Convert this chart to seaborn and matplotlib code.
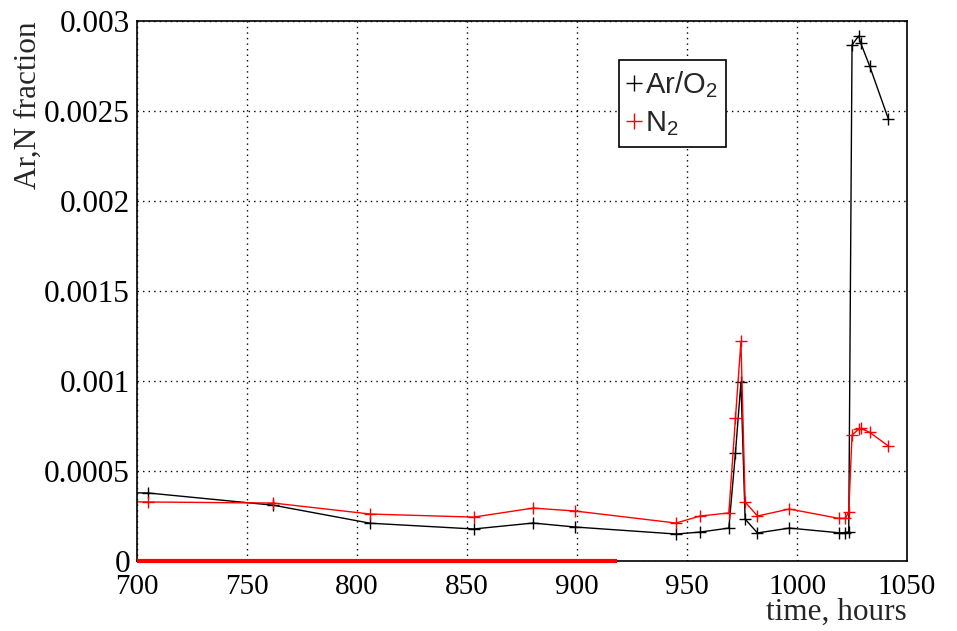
import numpy as np
import pandas as pd
import seaborn as sns
import matplotlib
matplotlib.use("Agg")
import matplotlib.pyplot as plt
from matplotlib.lines import Line2D
from matplotlib.ticker import MultipleLocator, FixedLocator

# ---- data ----
time_h = [690, 705, 762, 806, 853, 880, 899, 945, 956, 969, 972, 974.5, 976.4,
          982, 996.5, 1019, 1022, 1023.5, 1025, 1028, 1029, 1033, 1041.5]
ar_o2 = [0.00038, 0.000378, 0.00031, 0.00021, 0.000178, 0.000211, 0.000189,
         0.00015, 0.000161, 0.000183, 0.0006, 0.000994, 0.000233, 0.000156,
         0.000183, 0.000157, 0.000157, 0.000163, 0.002867, 0.002917, 0.002876,
         0.00275, 0.002456]
n2 = [0.00033, 0.000328, 0.000322, 0.000261, 0.000244, 0.000294, 0.000278,
      0.000211, 0.00025, 0.000267, 0.000794, 0.00122, 0.000328, 0.00025,
      0.000289, 0.000237, 0.000237, 0.000274, 0.0007, 0.000732, 0.000737,
      0.000715, 0.000639]
zero_time = [700, 918]
zero_vals = [0.0, 0.0]

series_names = ["Ar/O$_2$", "N$_2$"]
series_colors = ["black", "red"]

y_ticks = [0, 0.0005, 0.001, 0.0015, 0.002, 0.0025, 0.003]
y_tick_labels = ["0", "0.0005", "0.001", "0.0015", "0.002", "0.0025", "0.003"]
x_ticks = [700, 750, 800, 850, 900, 950, 1000, 1050]

df = pd.DataFrame({"time": time_h, "ar": ar_o2, "n2": n2})

sns.set_style("white")
plt.rcParams["font.family"] = ["Liberation Serif", "DejaVu Serif"]
plt.rcParams["mathtext.fontset"] = "custom"
plt.rcParams["mathtext.rm"] = "Liberation Sans"
plt.rcParams["mathtext.it"] = "Liberation Sans:italic"
plt.rcParams["mathtext.bf"] = "Liberation Sans:bold"

fig = plt.figure(figsize=(9.57, 6.31), dpi=100)
ax = fig.add_axes([0.1432, 0.1109, 0.8046, 0.8558])

for col, color in zip(["ar", "n2"], series_colors):
    sns.lineplot(data=df, x="time", y=col, ax=ax, color=color, sort=False,
                 marker="+", markersize=9, markeredgewidth=1.0,
                 markeredgecolor=color, linewidth=1.0, legend=False)

ax.plot(zero_time, zero_vals, color="red", linewidth=3, zorder=5, clip_on=False,
        solid_capstyle="butt")

ax.set_xlim(700, 1050)
ax.set_ylim(0, 0.003)

ax.xaxis.set_major_locator(FixedLocator(x_ticks))
ax.xaxis.set_minor_locator(MultipleLocator(10))
ax.yaxis.set_major_locator(FixedLocator(y_ticks))
ax.set_yticklabels(y_tick_labels)
ax.yaxis.set_minor_locator(MultipleLocator(0.0001))

ax.tick_params(axis="both", which="both", direction="in", top=False, right=False,
               colors="black")
ax.tick_params(axis="x", which="major", length=19, width=1, pad=9, labelsize=21)
ax.tick_params(axis="x", which="minor", length=9, width=1)
ax.tick_params(axis="y", which="major", length=23, width=1, pad=5, labelsize=22.5)
ax.tick_params(axis="y", which="minor", length=12, width=1)

ax.grid(True, which="major", color="black", linestyle=(0, (1, 3)), linewidth=1)

for sp in ax.spines.values():
    sp.set_color("black")
    sp.set_linewidth(1.2)

ax.set_xlabel("time, hours", fontsize=22.5, ha="right", x=1.0, labelpad=-1)
ax.set_ylabel("Ar,N fraction", fontsize=22.5, ha="right", va="center", y=1.0)
ax.yaxis.set_label_coords(-0.141, 1.0)

handles = [Line2D([], [], color=c, marker="+", linestyle="none", markersize=11,
                  markeredgewidth=1.0) for c in series_colors]
leg = ax.legend(handles, series_names, loc="upper left",
                bbox_to_anchor=(0.626, 0.927), borderaxespad=0, frameon=True,
                fancybox=False, framealpha=1, edgecolor="black",
                handlelength=0.4, handletextpad=0.2, borderpad=0.3,
                labelspacing=0.33,
                prop={"family": "Liberation Sans", "size": 21})
leg.get_frame().set_linewidth(1.2)

fig.savefig("out.png", dpi=100)
